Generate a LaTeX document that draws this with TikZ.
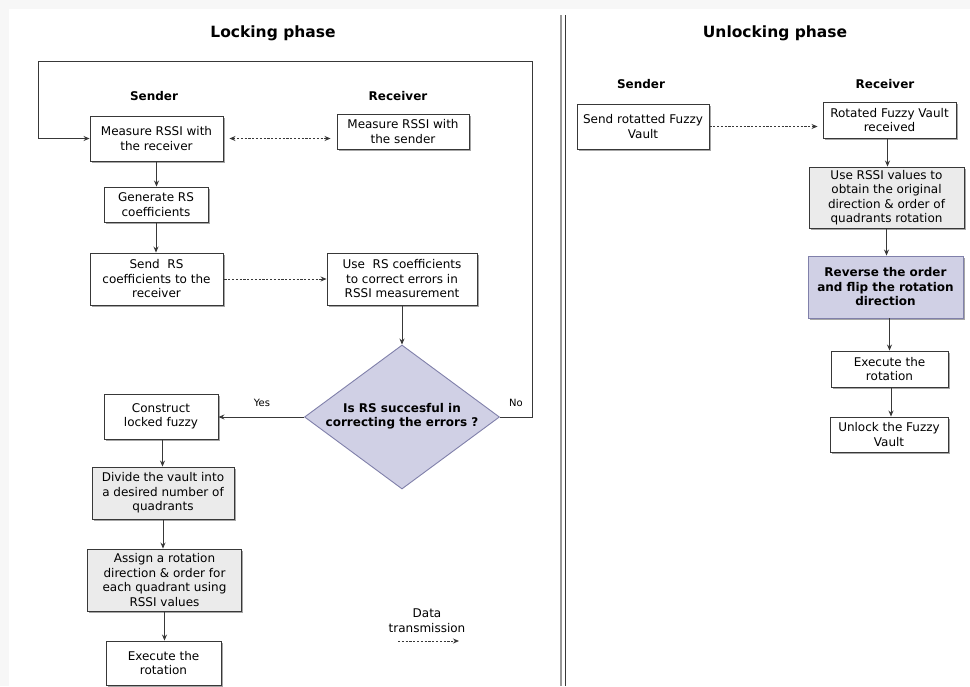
\documentclass[tikz,border=0pt]{standalone}
\usepackage{fontspec}
\setmainfont{DejaVu Sans}
\usetikzlibrary{arrows.meta,shapes.geometric,shadows}
\definecolor{bordc}{HTML}{383838}
\definecolor{bgc}{HTML}{F7F7F7}
\definecolor{grayfill}{HTML}{EBEBEB}
\definecolor{lav}{HTML}{D0D0E5}
\definecolor{lavb}{HTML}{8080AA}
\newcommand{\fs}{\fontsize{12}{14.5}\selectfont}
\newcommand{\fsb}{\fontsize{12}{14.5}\selectfont\bfseries}
\newcommand{\fst}{\fontsize{15.5}{18}\selectfont\bfseries}
\newcommand{\fsl}{\fontsize{10}{12}\selectfont}
\begin{document}
\begin{tikzpicture}[x=1pt,y=-1pt,
  shd/.style={drop shadow={shadow xshift=1.5pt,shadow yshift=-1.5pt,fill=black,opacity=0.35}},
  box/.style={draw=bordc, line width=0.9pt, fill=white, align=center, inner sep=0pt, font=\fs, shd},
  gbox/.style={box, fill=grayfill},
  lbox/.style={box, fill=lav, draw=lavb, font=\fsb},
  arr/.style={draw=bordc, line width=0.8pt, -{Stealth[length=6pt,width=5pt]}},
  dat/.style={draw=bordc, line width=0.8pt, dash pattern=on 2.2pt off 1.6pt, -{Stealth[length=6pt,width=5pt]}},
  ttl/.style={font=\fst, inner sep=0pt},
  hdr/.style={font=\fsb, inner sep=0pt},
  lbl/.style={font=\fsl, inner sep=0pt}]
\useasboundingbox (0,0) rectangle (970,686);
\fill[bgc] (0,0) rectangle (970,686);
\fill[white] (9,9) rectangle (970,686);

% divider
\draw[black!40, line width=1.5pt] (561,15) -- (561,686);
\draw[bordc, line width=1pt] (565,15) -- (565,686);

% titles and headers
\node[ttl] (t1) at (273,33) {Locking phase};
\node[ttl] (t2) at (775,33) {Unlocking phase};
\node[hdr] (h1) at (154,96) {Sender};
\node[hdr] (h2) at (398,96) {Receiver};
\node[hdr] (h3) at (641,84) {Sender};
\node[hdr] (h4) at (885,84) {Receiver};

% locking phase
\node[box, minimum width=133pt, minimum height=45pt] (A) at (156.5,138.5) {Measure RSSI with\\the receiver};
\node[box, minimum width=132pt, minimum height=35pt] (B) at (403,131.5) {Measure RSSI with\\the sender};
\node[box, minimum width=104pt, minimum height=35pt] (C) at (156,204.5) {Generate RS\\coefficients};
\node[box, minimum width=133pt, minimum height=52pt] (D) at (156.5,279) {Send~~RS\\coefficients to the\\receiver};
\node[box, minimum width=150pt, minimum height=52pt] (E) at (402,279) {Use~~RS coefficients\\to correct errors in\\RSSI measurement};
\node[diamond, draw=lavb, fill=lav, line width=0.9pt, minimum width=195pt, minimum height=144pt, inner sep=0pt] (dia) at (402,417) {};
\node[font=\fsb, align=center, inner sep=0pt] (diat) at (402,416) {Is RS succesful in\\correcting the errors ?};
\node[box, minimum width=114pt, minimum height=45pt] (F) at (161,416.5) {Construct\\locked fuzzy};
\node[gbox, minimum width=142pt, minimum height=52pt] (G) at (163,493) {Divide the vault into\\a desired number of\\quadrants};
\node[gbox, minimum width=154pt, minimum height=62pt] (H) at (164.5,580) {Assign a rotation\\direction \& order for\\each quadrant using\\RSSI values};
\node[box, minimum width=115pt, minimum height=44pt] (I) at (163.5,663) {Execute the\\rotation};

\node[lbl] (yes) at (262,403) {Yes};
\node[lbl] (no) at (516,403) {No};

\draw[dat, {Stealth[length=6pt,width=5pt]}-{Stealth[length=6pt,width=5pt]}, shorten <=6pt, shorten >=6pt] (A.east) -- (A.east -| B.west);
\draw[arr] (A.south) -- (A.south |- C.north);
\draw[arr] (C.south) -- (C.south |- D.north);
\draw[dat, shorten <=1pt] (D.east) -- (E.west);
\draw[arr] (E.south) -- (dia.north);
\draw[arr] (dia.west) -- (dia.west -| F.east);
\draw[arr] ([xshift=1.5pt]F.south) -- ([xshift=1.5pt]F.south |- G.north);
\draw[arr] (G.south) -- (G.south |- H.north);
\draw[arr] (H.south) -- (H.south |- I.north);

\coordinate (lpR) at (532,61);
\coordinate (lpL) at (38,61);
\draw[arr] (dia.east) -| (lpR) -- (lpL) |- (A.west);

% legend
\node[font=\fs, align=center, inner sep=0pt] (leg) at (427,620.5) {Data\\transmission};
\coordinate (lg1) at (398,641);
\coordinate (lg2) at (459,641);
\draw[dat] (lg1) -- (lg2);

% unlocking phase
\node[box, minimum width=132pt, minimum height=45pt] (J) at (643,126.5) {Send rotatted Fuzzy\\Vault};
\node[box, minimum width=133pt, minimum height=36pt] (K) at (889.5,120) {Rotated Fuzzy Vault\\received};
\node[gbox, minimum width=155pt, minimum height=61pt] (L) at (886.5,197.5) {Use RSSI values to\\obtain the original\\direction \& order of\\quadrants rotation};
\node[lbox, minimum width=155pt, minimum height=62pt] (M) at (885.5,287) {Reverse the order\\and flip the rotation\\direction};
\node[box, minimum width=117pt, minimum height=36pt] (N) at (889.5,369) {Execute the\\rotation};
\node[box, minimum width=118pt, minimum height=35pt] (O) at (889,434.5) {Unlock the Fuzzy\\Vault};

\draw[dat, shorten >=5pt] (J.east) -- (J.east -| K.west);
\draw[arr] ([xshift=-2pt]K.south) -- ([xshift=-2pt]K.south |- L.north);
\draw[arr] (L.south) -- (L.south |- M.north);
\draw[arr] (N.north |- M.south) -- (N.north);
\draw[arr] ([xshift=1.5pt]N.south) -- ([xshift=1.5pt]N.south |- O.north);
\end{tikzpicture}
\end{document}
